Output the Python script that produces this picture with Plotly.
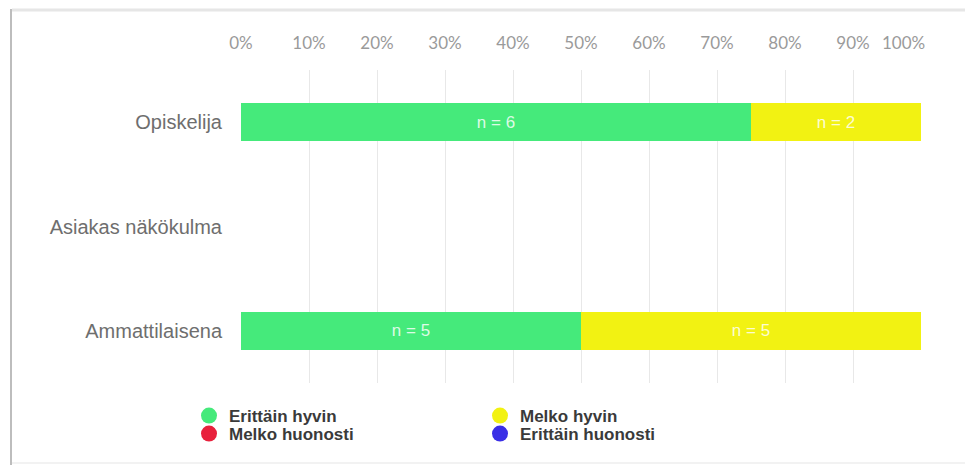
import plotly.graph_objects as go

categories = ["Opiskelija", "Asiakas näkökulma", "Ammattilaisena"]
series_names = ["Erittäin hyvin", "Melko hyvin", "Melko huonosti", "Erittäin huonosti"]
series_colors = ["#45EA7B", "#F2F212", "#E8203C", "#3A2FE6"]
pct_erittain_hyvin = [75, 0, 50]
pct_melko_hyvin = [25, 0, 50]
pct_melko_huonosti = [0, 0, 0]
pct_erittain_huonosti = [0, 0, 0]
n_erittain_hyvin = [6, 0, 5]
n_melko_hyvin = [2, 0, 5]
n_melko_huonosti = [0, 0, 0]
n_erittain_huonosti = [0, 0, 0]
x_tickvals = [0, 10, 20, 30, 40, 50, 60, 70, 80, 90, 100]
x_ticktext = ["0%", "10%", "20%", "30%", "40%", "50%", "60%", "70%", "80%", "90%",
              "100%\u00a0\u00a0\u00a0\u00a0\u00a0\u00a0\u00a0\u00a0"]

all_pct = [pct_erittain_hyvin, pct_melko_hyvin, pct_melko_huonosti, pct_erittain_huonosti]
all_n = [n_erittain_hyvin, n_melko_hyvin, n_melko_huonosti, n_erittain_huonosti]

W, H = 965, 465
ML, MR, MT, MB = 241, 44, 70, 82
PW, PH = W - ML - MR, H - MT - MB


def px(xp):
    return (xp - ML) / PW


def py(yp):
    return (H - MB - yp) / PH


fig = go.Figure()
for name, color, pct, ns in zip(series_names, series_colors, all_pct, all_n):
    fig.add_trace(go.Bar(
        y=categories, x=pct, orientation="h", name=name,
        marker=dict(color=color, line=dict(width=0)),
        text=[f"n = {v}" if v else "" for v in ns],
        textposition="inside", insidetextanchor="middle",
        textfont=dict(family="Liberation Sans, Arial", size=17, color="rgba(255,255,255,0.82)"),
        showlegend=False, hoverinfo="skip",
    ))

legend_ids = ["legend", "legend", "legend2", "legend2"]
for name, color, lg in zip(series_names, series_colors, legend_ids):
    fig.add_trace(go.Scatter(
        x=[None], y=[None], mode="markers", name=name,
        marker=dict(color=color, size=16, symbol="circle"),
        legend=lg, showlegend=True,
    ))

legend_font = dict(family="Liberation Sans, Arial", size=17, color="#3a3a3a", weight="bold")
common_legend = dict(
    x=px(189), xanchor="left", yanchor="middle",
    orientation="h", font=legend_font, bgcolor="rgba(0,0,0,0)",
    itemclick=False, traceorder="normal",
    entrywidth=246, entrywidthmode="pixels",
)
fig.update_layout(
    width=W, height=H,
    margin=dict(l=ML, r=MR, t=MT, b=MB, autoexpand=False),
    paper_bgcolor="white", plot_bgcolor="white",
    barmode="stack", bargap=0.64,
    xaxis=dict(
        side="top", range=[0, 100], tickvals=x_tickvals, ticktext=x_ticktext,
        showgrid=True, gridcolor="#e8e8e8", gridwidth=1, zeroline=False,
        showline=False, ticks="", ticklabelstandoff=17,
        tickfont=dict(family="Lato", size=17, color="#9a9a9a"),
        fixedrange=True,
    ),
    yaxis=dict(
        categoryorder="array", categoryarray=categories, autorange="reversed",
        showgrid=False, zeroline=False, showline=False, ticks="",
        ticklabelstandoff=18,
        tickfont=dict(family="Liberation Sans, Arial", size=20, color="#6e6e6e"),
    ),
    legend=dict(y=py(416), **common_legend),
    legend2=dict(y=py(434), **common_legend),
    shapes=[
        dict(type="line", xref="paper", yref="paper", x0=px(12), x1=px(975), y0=py(10), y1=py(10),
             line=dict(color="#e6e6e6", width=3), layer="below"),
        dict(type="line", xref="paper", yref="paper", x0=px(11), x1=px(11), y0=py(9), y1=py(470),
             line=dict(color="#bdbdbd", width=2), layer="below"),
        dict(type="line", xref="paper", yref="paper", x0=px(12), x1=px(975), y0=py(463), y1=py(463),
             line=dict(color="#f2f2f2", width=2), layer="below"),
    ],
)

fig.write_html("out.html")
